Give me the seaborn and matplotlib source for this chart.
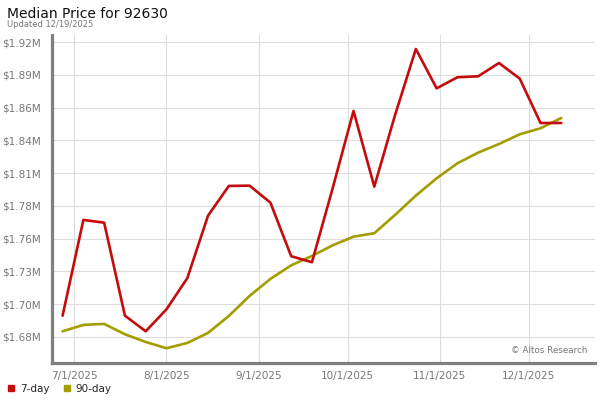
import matplotlib
matplotlib.use("Agg")
import matplotlib.pyplot as plt
from matplotlib.lines import Line2D
import pandas as pd
import seaborn as sns

# weekly readings, 6/27/2025 .. 12/12/2025 (millions of $)
week_start = "2025-06-27"
price_7day = [1.6943, 1.7722, 1.7700, 1.6943, 1.6816, 1.6995, 1.7248, 1.7757, 1.7999,
              1.8001, 1.7863, 1.7427, 1.7378, 1.7982, 1.8609, 1.7993, 1.8576, 1.9113,
              1.8793, 1.8883, 1.8891, 1.8999, 1.8872, 1.8511, 1.8511]
price_90day = [1.6816, 1.6868, 1.6876, 1.6792, 1.6729, 1.6678, 1.6721, 1.6803, 1.6941,
               1.7104, 1.7242, 1.7353, 1.7429, 1.7516, 1.7586, 1.7614, 1.7763, 1.7920,
               1.8061, 1.8183, 1.8270, 1.8340, 1.8419, 1.8468, 1.8552]
series_names = ["7-day", "90-day"]
series_colors = ["#c40c0c", "#a39d00"]

y_ticks = [1.677, 1.7037, 1.7303, 1.757, 1.7837, 1.8103, 1.837, 1.8637, 1.8903, 1.917]
y_labels = ["$1.68M", "$1.70M", "$1.73M", "$1.76M", "$1.78M", "$1.81M",
            "$1.84M", "$1.86M", "$1.89M", "$1.92M"]
x_ticks = ["2025-07-01", "2025-08-01", "2025-09-01", "2025-10-01", "2025-11-01", "2025-12-01"]
x_labels = ["7/1/2025", "8/1/2025", "9/1/2025", "10/1/2025", "11/1/2025", "12/1/2025"]

dates = pd.date_range(week_start, periods=len(price_7day), freq="7D")
df = pd.DataFrame({
    "date": list(dates) * 2,
    "price": price_7day + price_90day,
    "series": ["7-day"] * len(dates) + ["90-day"] * len(dates),
})

sns.set_style("white")
plt.rcParams["font.family"] = ["DejaVu Sans"]

fig = plt.figure(figsize=(6, 4), dpi=100)
ax = fig.add_axes([0.087, 0.0925, 0.905, 0.82])

# 90-day first so the 7-day line sits on top
for name, color, z in [("90-day", series_colors[1], 2), ("7-day", series_colors[0], 3)]:
    sns.lineplot(data=df[df["series"] == name], x="date", y="price", color=color,
                 linewidth=1.9, ax=ax, legend=False, zorder=z)

ax.set_xlim(pd.Timestamp("2025-06-23 12:00"), pd.Timestamp("2025-12-23 10:00"))
ax.set_ylim(1.6558, 1.9227)
ax.set_yticks(y_ticks)
ax.set_yticklabels(y_labels)
ax.set_xticks([pd.Timestamp(d) for d in x_ticks])
ax.set_xticklabels(x_labels)
ax.tick_params(axis="both", length=0, labelsize=7.5, labelcolor="#777777")
ax.tick_params(axis="y", pad=8)
ax.tick_params(axis="x", pad=6)
ax.set_xlabel("")
ax.set_ylabel("")
ax.grid(True, color="#dddddd", linewidth=0.8)
ax.set_axisbelow(True)

for side in ["top", "right"]:
    ax.spines[side].set_visible(False)
for side in ["left", "bottom"]:
    ax.spines[side].set_color("#808080")
    ax.spines[side].set_linewidth(2.3)

fig.text(0.012, 0.955, "Median Price for 92630", fontsize=10, color="#111111")
fig.text(0.012, 0.932, "Updated 12/19/2025", fontsize=6, color="#777777")
ax.text(0.985, 0.025, "© Altos Research", transform=ax.transAxes, ha="right",
        va="bottom", fontsize=6.3, color="#777777")

handles = [Line2D([], [], marker="s", linestyle="", markersize=5, color=c) for c in series_colors]
fig.legend(handles, series_names, loc="lower left", bbox_to_anchor=(0.0, 0.0), ncol=2,
           frameon=False, fontsize=7.5, handletextpad=0.3, columnspacing=1.2,
           handlelength=1.0, borderaxespad=0.2)

fig.savefig("out.png", dpi=100)
